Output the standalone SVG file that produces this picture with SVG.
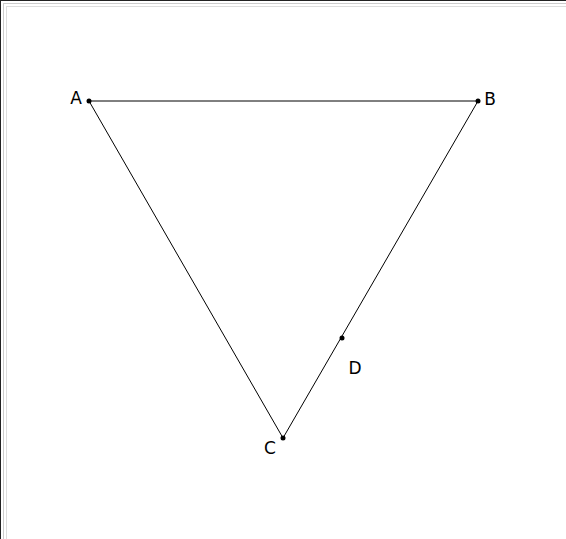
<svg xmlns="http://www.w3.org/2000/svg" width="566" height="539" viewBox="0 0 566 539">
<style>
.edge{stroke:#000;stroke-width:1;fill:none}
.pt{fill:#000}
.lbl{font-family:"DejaVu Sans",sans-serif;font-size:17px;fill:#000;text-anchor:middle;dominant-baseline:central}
</style>
<rect width="566" height="539" fill="#fff"/>
<g id="frame">
<line x1="0" y1="0.5" x2="566" y2="0.5" stroke="#222" stroke-width="1"/>
<line x1="0.5" y1="0" x2="0.5" y2="539" stroke="#222" stroke-width="1"/>
<line x1="3" y1="3.5" x2="566" y2="3.5" stroke="#ccc" stroke-width="1"/>
<line x1="3.5" y1="3" x2="3.5" y2="539" stroke="#ccc" stroke-width="1"/>
<line x1="6" y1="6.5" x2="566" y2="6.5" stroke="#ddd" stroke-width="1"/>
<line x1="6.5" y1="6" x2="6.5" y2="539" stroke="#ddd" stroke-width="1"/>
</g>
<g id="connectors">
<line class="edge" x1="89" y1="101" x2="478" y2="101"/>
<line class="edge" x1="89" y1="101" x2="283" y2="438"/>
<line class="edge" x1="478" y1="101" x2="283" y2="438"/>
</g>
<g id="A"><circle class="pt" cx="89" cy="101" r="2.5"/><text class="lbl" x="76" y="98">A</text></g>
<g id="B"><circle class="pt" cx="478" cy="101" r="2.5"/><text class="lbl" x="490" y="99">B</text></g>
<g id="C"><circle class="pt" cx="283" cy="438" r="2.5"/><text class="lbl" x="270" y="448">C</text></g>
<g id="D"><circle class="pt" cx="342" cy="338" r="2.5"/><text class="lbl" x="355" y="368">D</text></g>
</svg>
